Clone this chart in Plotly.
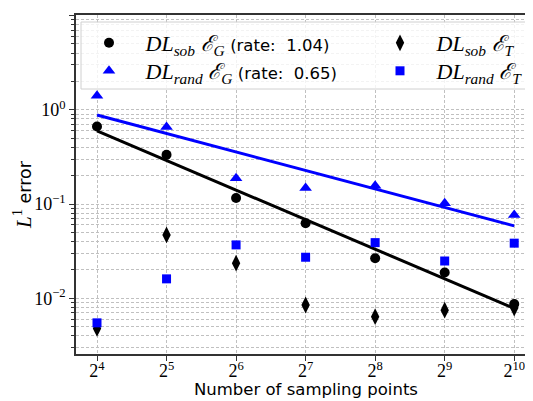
import numpy as np
import plotly.graph_objects as go

# ---- data ----
n_points = [16, 32, 64, 128, 256, 512, 1024]
sob_G = [0.665, 0.333, 0.116, 0.0627, 0.0266, 0.0188, 0.0087]
rand_G = [1.41, 0.655, 0.188, 0.148, 0.156, 0.102, 0.0768]
sob_T = [0.0048, 0.0471, 0.0236, 0.0085, 0.0064, 0.0075, 0.0079]
rand_T = [0.0055, 0.0161, 0.0369, 0.0273, 0.039, 0.0249, 0.0385]

x_tickvals = [16, 32, 64, 128, 256, 512, 1024]
x_ticktext = ["2<sup>4</sup>", "2<sup>5</sup>", "2<sup>6</sup>", "2<sup>7</sup>",
              "2<sup>8</sup>", "2<sup>9</sup>", "2<sup>10</sup>"]
y_tickvals = [0.01, 0.1, 1, 10]
y_ticktext = ["10<sup>−2</sup>", "10<sup>−1</sup>", "10<sup>0</sup>", "10<sup>1</sup>"]

rate_sob = "1.04"
rate_rand = "0.65"

SERIF = "Liberation Serif"
SANS = "DejaVu Sans"

def fit(x, y):
    lx = np.log2(np.array(x, float))
    ly = np.log2(np.array(y, float))
    p = np.polyfit(lx, ly, 1)
    return 2 ** np.polyval(p, lx)

def sp(t, size=16):
    return f'<span style="font-family:{SANS};font-size:{size}px">{t}</span>'

GAP = "&nbsp;" * 3
lab_sobG = GAP + "<i>DL</i><sub><i>sob</i></sub> <i>ℰ</i><sub><i>G</i></sub> " + sp(f"(rate:  {rate_sob})", 16.5)
lab_randG = GAP + "<i>DL</i><sub><i>rand</i></sub> <i>ℰ</i><sub><i>G</i></sub> " + sp(f"(rate:  {rate_rand})", 16.5)
lab_sobT = GAP + "<i>DL</i><sub><i>sob</i></sub> <i>ℰ</i><sub><i>T</i></sub>"
lab_randT = GAP + "<i>DL</i><sub><i>rand</i></sub> <i>ℰ</i><sub><i>T</i></sub>"

fig = go.Figure()

fig.add_trace(go.Scatter(x=n_points, y=fit(n_points, rand_G), mode="lines",
                         line=dict(color="#0000ff", width=3), showlegend=False))
fig.add_trace(go.Scatter(x=n_points, y=fit(n_points, sob_G), mode="lines",
                         line=dict(color="black", width=3), showlegend=False))

fig.add_trace(go.Scatter(x=n_points, y=sob_G, mode="markers", name=lab_sobG,
                         marker=dict(symbol="circle", size=10, color="black"), legend="legend"))
fig.add_trace(go.Scatter(x=n_points, y=rand_G, mode="markers", name=lab_randG,
                         marker=dict(symbol="triangle-up", size=11, color="#0000ff"), legend="legend2"))
fig.add_trace(go.Scatter(x=n_points, y=sob_T, mode="markers", name=lab_sobT,
                         marker=dict(symbol="diamond-tall", size=12, color="black"), legend="legend3"))
fig.add_trace(go.Scatter(x=n_points, y=rand_T, mode="markers", name=lab_randT,
                         marker=dict(symbol="square", size=9, color="#0000ff"), legend="legend4"))

# page body has an 8px margin: lay out in screen pixels, then shift
OFF = 8
W, H = 533 - OFF, 401 - OFF
L, T = 76 - OFF, 15 - OFF
R, B = 0, H - (354 - OFF)
pw, ph = W - L - R, H - T - B

def px2paper(px, py):
    return (px - OFF - L) / pw, 1 - (py - OFF - T) / ph

def legend_at(px, py):
    x, y = px2paper(px, py)
    return dict(x=x, y=y, xanchor="left", yanchor="middle", bgcolor="rgba(0,0,0,0)",
                borderwidth=0, font=dict(family=SERIF, size=22, color="black"),
                itemclick=False, itemdoubleclick=False)

gridc = "#c0c0c0"
dash = "3px,2px"
fig.update_layout(
    width=W, height=H,
    margin=dict(l=L, r=R, t=T, b=B, autoexpand=False),
    plot_bgcolor="white", paper_bgcolor="white",
    showlegend=True,
    legend=legend_at(89, 43),
    legend2=legend_at(89, 71),
    legend3=legend_at(380, 43),
    legend4=legend_at(380, 71),
    xaxis=dict(type="log", range=[3.698 * np.log10(2), 10.27 * np.log10(2)],
               tickvals=x_tickvals, ticktext=x_ticktext, automargin=False,
               tickfont=dict(family=SERIF, size=18, color="black"), ticklabelstandoff=-5,
               ticks="outside", ticklen=5, tickcolor="#333", tickwidth=1,
               showline=True, linecolor="#333", linewidth=1.5, mirror=True,
               showgrid=True, gridcolor=gridc, griddash=dash, gridwidth=1,
               zeroline=False),
    yaxis=dict(type="log", range=[-2.59, 1.005], automargin=False,
               tickvals=y_tickvals, ticktext=y_ticktext,
               tickfont=dict(family=SERIF, size=18, color="black"),
               ticks="outside", ticklen=5, tickcolor="#333", tickwidth=1,
               showline=True, linecolor="#333", linewidth=1.5,
               showgrid=True, gridcolor=gridc, griddash=dash, gridwidth=1,
               zeroline=False,
               minor=dict(ticks="outside", ticklen=3, tickcolor="#333", dtick="D1",
                          showgrid=True, gridcolor=gridc, griddash=dash, gridwidth=1)),
)

# axis titles
fig.add_annotation(text="Number of sampling points", xref="paper", yref="paper",
                   x=px2paper(306, 0)[0], y=px2paper(0, 389)[1], xanchor="center", yanchor="middle",
                   showarrow=False, font=dict(family=SANS, size=16.5, color="black"))
fig.add_annotation(text='<i>L</i><sup>1</sup>' + sp(" error", 17.5), xref="paper", yref="paper",
                   x=px2paper(22, 0)[0], y=px2paper(0, 195)[1], xanchor="center", yanchor="middle",
                   textangle=-90, showarrow=False, font=dict(family=SERIF, size=21, color="black"))

# legend frame (semi-transparent)
x0, y0 = px2paper(81, 22)
x1, y1 = px2paper(530, 89)
fig.add_shape(type="rect", xref="paper", yref="paper", x0=x0, y0=y1, x1=x1, y1=y0,
              line=dict(color="#d0d0d0", width=1), fillcolor="rgba(255,255,255,0.8)", layer="above")

fig.write_html("out.html")
